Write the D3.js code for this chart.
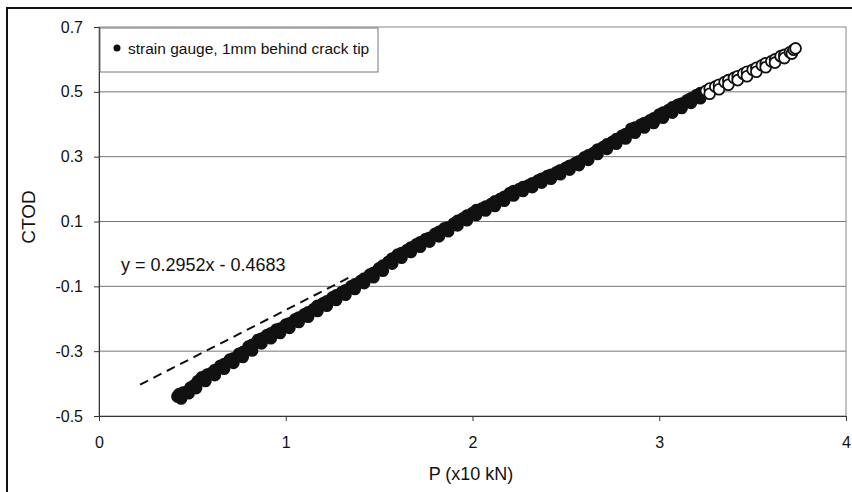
<!DOCTYPE html>
<html><head><meta charset="utf-8">
<script src="https://cdn.jsdelivr.net/npm/d3@7"></script>
<style>
body{margin:0;background:#fff;}
svg{display:block;font-family:"Liberation Sans",Arial,sans-serif;}
</style></head>
<body><svg id="c" width="852" height="492"></svg>
<script>
const xTicks=[0,1,2,3,4];
const yTicks=[-0.5,-0.3,-0.1,0.1,0.3,0.5,0.7];
const seriesName="strain gauge, 1mm behind crack tip";
const trendLabel="y = 0.2952x - 0.4683";
const trendSlope=0.2952, trendIntercept=-0.4683;
const trendRange=[0.22,1.36];
const hollowFrom=3.25;
// loading pass
const pX=[0.42,0.43,0.44,0.45,0.47,0.49,0.51,0.53,0.55,0.58,0.60,0.62,0.65,0.67,0.70,0.72,0.75,0.77,0.80,0.82,0.85,0.87,0.90,0.92,0.95,0.97,1.00,1.02,1.05,1.07,1.10,1.12,1.15,1.17,1.20,1.22,1.25,1.27,1.30,1.32,1.35,1.37,1.40,1.42,1.45,1.47,1.50,1.52,1.55,1.57,1.60,1.62,1.65,1.67,1.70,1.72,1.75,1.77,1.80,1.82,1.85,1.87,1.90,1.92,1.95,1.97,2.00,2.02,2.05,2.07,2.10,2.12,2.15,2.17,2.20,2.22,2.25,2.27,2.30,2.32,2.35,2.37,2.40,2.42,2.45,2.47,2.50,2.52,2.55,2.57,2.60,2.62,2.65,2.67,2.70,2.72,2.75,2.77,2.80,2.82,2.85,2.87,2.90,2.92,2.95,2.97,3.00,3.02,3.05,3.07,3.10,3.12,3.15,3.17,3.20,3.22,3.25,3.27,3.30,3.32,3.35,3.37,3.40,3.42,3.45,3.47,3.50,3.52,3.55,3.57,3.60,3.62,3.65,3.67,3.70,3.72,3.73];
const ctod=[-0.440,-0.432,-0.438,-0.428,-0.425,-0.412,-0.405,-0.392,-0.381,-0.372,-0.368,-0.358,-0.345,-0.340,-0.326,-0.322,-0.308,-0.303,-0.286,-0.280,-0.266,-0.261,-0.250,-0.245,-0.233,-0.230,-0.218,-0.214,-0.202,-0.196,-0.186,-0.180,-0.170,-0.160,-0.152,-0.146,-0.134,-0.128,-0.118,-0.112,-0.100,-0.094,-0.084,-0.076,-0.064,-0.058,-0.044,-0.036,-0.024,-0.014,-0.002,0.003,0.012,0.020,0.030,0.036,0.046,0.050,0.062,0.068,0.079,0.082,0.094,0.102,0.110,0.118,0.126,0.135,0.140,0.146,0.154,0.162,0.170,0.176,0.188,0.194,0.200,0.206,0.212,0.218,0.226,0.232,0.240,0.244,0.252,0.258,0.266,0.272,0.280,0.286,0.298,0.304,0.312,0.322,0.330,0.338,0.346,0.354,0.364,0.370,0.386,0.390,0.398,0.404,0.412,0.418,0.430,0.436,0.444,0.452,0.460,0.464,0.474,0.480,0.490,0.496,0.503,0.510,0.516,0.522,0.530,0.536,0.543,0.548,0.556,0.562,0.568,0.574,0.582,0.588,0.594,0.600,0.610,0.614,0.622,0.630,0.634];
// second pass
const pX2=[0.44,0.48,0.52,0.57,0.62,0.67,0.72,0.77,0.82,0.87,0.92,0.97,1.02,1.07,1.12,1.17,1.22,1.27,1.32,1.37,1.42,1.47,1.52,1.57,1.62,1.67,1.72,1.77,1.82,1.87,1.92,1.97,2.02,2.07,2.12,2.17,2.22,2.27,2.32,2.37,2.42,2.47,2.52,2.57,2.62,2.67,2.72,2.77,2.82,2.87,2.92,2.97,3.02,3.07,3.12,3.17,3.22,3.27,3.32,3.37,3.42,3.47,3.52,3.57,3.62,3.67,3.71];
const ctod2=[-0.446,-0.430,-0.414,-0.392,-0.374,-0.354,-0.336,-0.318,-0.298,-0.276,-0.260,-0.244,-0.228,-0.210,-0.194,-0.176,-0.160,-0.142,-0.126,-0.108,-0.090,-0.072,-0.052,-0.030,-0.012,0.006,0.022,0.038,0.054,0.070,0.088,0.104,0.120,0.134,0.148,0.164,0.180,0.194,0.206,0.220,0.232,0.246,0.260,0.274,0.290,0.308,0.324,0.340,0.356,0.374,0.390,0.404,0.420,0.436,0.450,0.466,0.480,0.494,0.508,0.522,0.536,0.548,0.562,0.576,0.590,0.604,0.618];

const svg=d3.select("#c");
const L=99,R=846,T=27,B=416;
const x=d3.scaleLinear().domain([0,4]).range([L,R]);
const y=d3.scaleLinear().domain([-0.5,0.7]).range([B,T]);
const FONT="Liberation Sans,Arial,sans-serif";

// outer frame
svg.append("path").attr("d","M7,492 L7,8 L852,8").attr("fill","none").attr("stroke","#111").attr("stroke-width",2);

// gridlines
svg.append("g").selectAll("line").data(yTicks.filter(v=>v>-0.5&&v<0.7)).join("line")
  .attr("x1",L).attr("x2",R).attr("y1",d=>y(d)).attr("y2",d=>y(d))
  .attr("stroke","#777").attr("stroke-width",1);
// plot border
svg.append("rect").attr("x",L).attr("y",T).attr("width",R-L).attr("height",B-T)
  .attr("fill","none").attr("stroke","#888").attr("stroke-width",1);

// axes
const xa=svg.append("g").attr("transform",`translate(0,${B})`)
  .call(d3.axisBottom(x).tickValues(xTicks).tickFormat(d3.format("d")).tickSize(5).tickPadding(16));
const ya=svg.append("g").attr("transform",`translate(${L},0)`)
  .call(d3.axisLeft(y).tickValues(yTicks).tickFormat(d=>d3.format(".1f")(d).replace("−","-")).tickSize(5).tickPadding(11));
[xa,ya].forEach(a=>{a.select(".domain").attr("stroke","#333");a.selectAll("line").attr("stroke","#333");
  a.selectAll("text").attr("font-size",16).attr("fill","#111").attr("font-family",FONT);});

// axis titles
svg.append("text").attr("x",471).attr("y",480).attr("text-anchor","middle").attr("font-size",18).attr("fill","#111").text("P (x10 kN)");
svg.append("text").attr("transform","translate(35,217) rotate(-90)").attr("text-anchor","middle").attr("font-size",19).attr("fill","#111").text("CTOD");

// data
const pts=pX.map((v,i)=>({x:v,y:ctod[i]})).concat(pX2.map((v,i)=>({x:v,y:ctod2[i]})));
pts.sort((a,b)=>a.x-b.x);
svg.append("g").selectAll("circle").data(pts).join("circle")
  .attr("cx",d=>x(d.x)).attr("cy",d=>y(d.y)).attr("r",5.4)
  .attr("fill",d=>d.x>=hollowFrom?"#fff":"#111").attr("stroke","#111").attr("stroke-width",1.8);

// trendline
svg.append("line").attr("x1",x(trendRange[0])).attr("y1",y(trendSlope*trendRange[0]+trendIntercept))
  .attr("x2",x(trendRange[1])).attr("y2",y(trendSlope*trendRange[1]+trendIntercept))
  .attr("stroke","#111").attr("stroke-width",2).attr("stroke-dasharray","9,6");
svg.append("text").attr("x",121).attr("y",271).attr("font-size",18).attr("fill","#111").text(trendLabel);

// legend
svg.append("rect").attr("x",100).attr("y",28).attr("width",278).attr("height",44).attr("fill","#fff").attr("stroke","#777");
svg.append("circle").attr("cx",117).attr("cy",48).attr("r",3.5).attr("fill","#111");
svg.append("text").attr("x",128).attr("y",54).attr("font-size",15.5).attr("fill","#111").text(seriesName);
</script></body></html>
